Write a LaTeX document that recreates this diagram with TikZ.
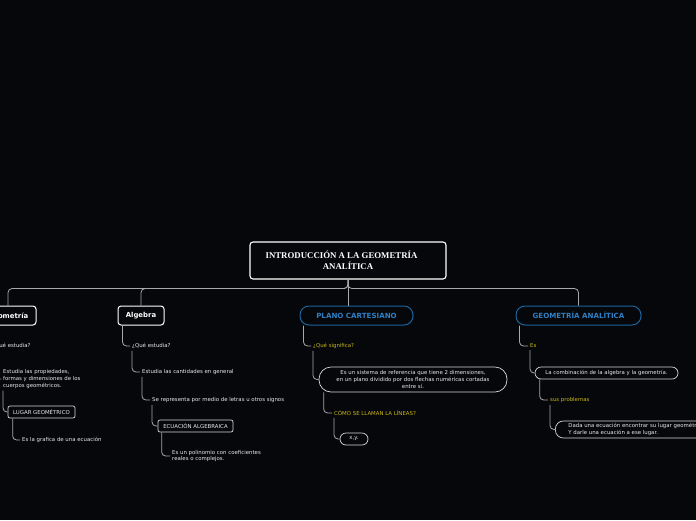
\documentclass[tikz,border=0pt]{standalone}
\usepackage{fontspec}
\setmainfont{DejaVu Sans}
\newfontfamily\rootfont{Liberation Serif}
\usetikzlibrary{calc}
\definecolor{bgc}{HTML}{06070A}
\definecolor{linec}{HTML}{A8A8A8}
\definecolor{boxc}{HTML}{D8D8D8}
\definecolor{bluec}{HTML}{1A64A0}
\definecolor{bluet}{HTML}{2E7FC4}
\definecolor{yellowc}{HTML}{C9B617}
\definecolor{txtc}{HTML}{E8E8E8}
\tikzset{
  conn/.style={draw=linec, line width=0.8pt, rounded corners=4pt},
  rootbox/.style={draw=white, line width=1.1pt, rounded corners=3pt, fill=bgc, text=white,
    font=\rootfont\fontsize{8.8}{11}\selectfont\bfseries, align=center, minimum width=196pt, minimum height=37pt},
  mainbox/.style={draw=white, line width=1pt, rounded corners=3pt, fill=bgc, text=white,
    font=\fontsize{6.9}{8}\selectfont\bfseries, minimum height=19pt, inner sep=0pt},
  bluebox/.style={draw=bluec, line width=1pt, rounded corners=9pt, fill=bgc, text=bluet,
    font=\fontsize{7.1}{8}\selectfont\bfseries, minimum height=19pt, inner sep=0pt},
  leaf/.style={text=txtc, font=\fontsize{5.4}{6.8}\selectfont, inner sep=2pt, anchor=west, align=left},
  yleaf/.style={leaf, text=yellowc},
  sbox/.style={draw=boxc, line width=0.7pt, rounded corners=2pt, text=txtc, fill=bgc,
    font=\fontsize{5.4}{6.8}\selectfont, inner sep=0pt},
  pill/.style={sbox, rounded corners=6pt}
}
\begin{document}
\begin{tikzpicture}[x=1pt,y=-1pt]
\fill[bgc] (0,0) rectangle (696,520);
\useasboundingbox (0,0) rectangle (696,520);

% root and main branches
\node[rootbox] (root) at (348,260.5) {INTRODUCCIÓN A LA GEOMETRÍA\hspace*{13pt}\\ANALÍTICA};
\node[mainbox, minimum width=56pt] (geo) at (8,315.5) {Geometría};
\node[mainbox, minimum width=46pt] (alg) at (141,315.5) {Algebra};
\node[bluebox, minimum width=113pt] (pc) at (356.5,315.5) {PLANO CARTESIANO};
\node[bluebox, minimum width=125pt] (ga) at (578.5,315.5) {GEOMETRÍA ANALÍTICA};

\draw[conn] (root.south) -- ++(0,9) -| (geo.north);
\draw[conn] (root.south) -- ++(0,9) -| (alg.north);
\draw[conn] (root.south) -- (root.south |- pc.north);
\draw[conn] (root.south) -- ++(0,9) -| (ga.north);

% Geometria branch
\node[leaf] (g1) at (-10,346) {¿Qué estudia?};
\node[leaf] (g2) at (1,379) {Estudia las propiedades,\\formas y dimensiones de los\\cuerpos geométricos.};
\node[sbox, minimum width=67pt, minimum height=12pt] (g3) at (41.5,412) {LUGAR GEOMÉTRICO};
\node[leaf] (g4) at (20,440) {Es la grafica de una ecuación};
\draw[conn] ($(geo.south west)+(5,0)$) |- (g1.west);
\draw[conn] ($(g1.south west)+(2,0)$) |- (g2.west);
\draw[conn] ($(g2.south west)+(2,0)$) |- (g3.west);
\draw[conn] ($(g3.south west)+(5,0)$) |- (g4.west);

% Algebra branch
\node[leaf] (a1) at (130,346) {¿Qué estudia?};
\node[leaf] (a2) at (140,372) {Estudia las cantidades en general};
\node[leaf] (a3) at (150,400) {Se representa por medio de letras u otros signos};
\node[sbox, minimum width=75pt, minimum height=12pt] (a4) at (195.5,426) {ECUACIÓN ALGEBRAICA};
\node[leaf] (a5) at (170,456) {Es un polinomio con coeficientes\\reales o complejos.};
\draw[conn] ($(alg.south west)+(5,0)$) |- (a1.west);
\draw[conn] ($(a1.south west)+(2,0)$) |- (a2.west);
\draw[conn] ($(a2.south west)+(2,0)$) |- (a3.west);
\draw[conn] ($(a3.south west)+(2,0)$) |- (a4.west);
\draw[conn] ($(a4.south west)+(4,0)$) |- (a5.west);

% Plano cartesiano branch
\node[yleaf] (p1) at (311,346) {¿Qué significa?};
\node[pill, rounded corners=12pt, minimum width=188pt, minimum height=25pt, align=center] (p2) at (413,379.5)
  {Es un sistema de referencia que tiene 2 dimensiones,\\en un plano dividido por dos flechas numéricas cortadas\\entre sí.};
\node[yleaf] (p3) at (332,413) {CÓMO SE LLAMAN LA LÍNEAS?};
\node[pill, minimum width=28pt, minimum height=12pt] (p4) at (354,439) {x,y.};
\draw[conn] ($(pc.south west)+(4,0)$) |- (p1.west);
\draw[conn] ($(p1.south west)+(2,0)$) |- (p2.west);
\draw[conn] ($(p2.south west)+(5,0)$) |- (p3.west);
\draw[conn] ($(p3.south west)+(2,0)$) |- (p4.west);

% Geometria analitica branch
\node[yleaf] (e1) at (528,346) {Es};
\node[pill, minimum width=143pt, minimum height=12pt] (e2) at (606.5,373) {La combinación de la algebra y la geometría.};
\node[yleaf] (e3) at (548,400) {sus problemas};
\node[pill, rounded corners=8pt, anchor=west, minimum height=17pt, inner xsep=13pt, align=left] (e4) at (555,429.5)
  {Dada una ecuación encontrar su lugar geométrico.\\Y darle una ecuación a ese lugar.};
\draw[conn] ($(ga.south west)+(4,0)$) |- (e1.west);
\draw[conn] ($(e1.south west)+(2,0)$) |- (e2.west);
\draw[conn] ($(e2.south west)+(5,0)$) |- (e3.west);
\draw[conn] ($(e3.south west)+(2,0)$) |- (e4.west);
\end{tikzpicture}
\end{document}
